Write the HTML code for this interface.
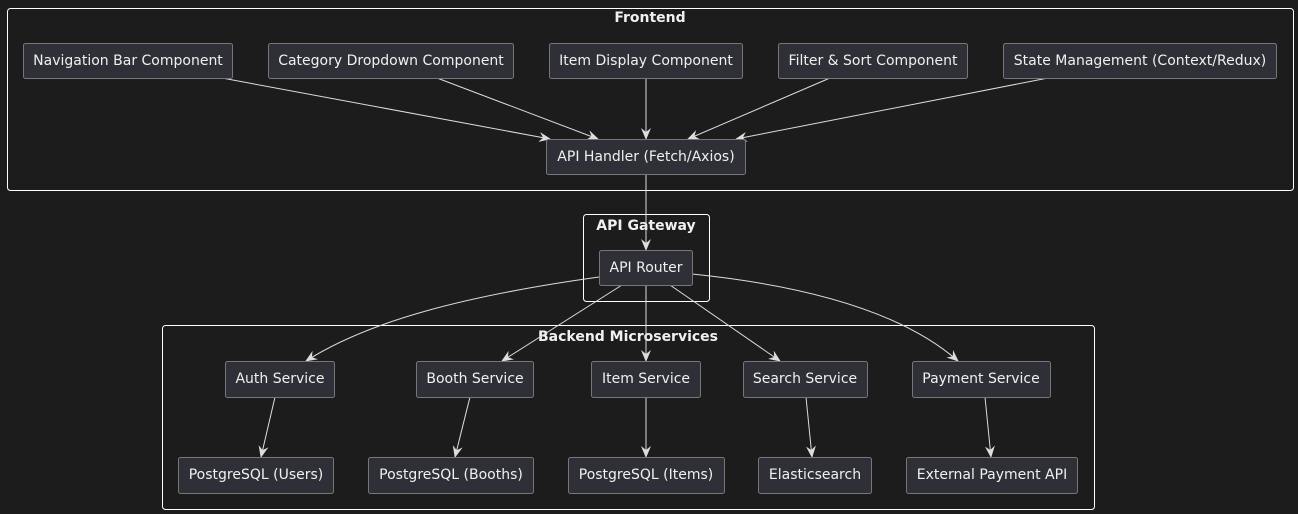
<!DOCTYPE html>
<html><head><style>
html,body{margin:0;padding:0;background:#1c1c1c;}
svg{display:block;}
text{font-family:"DejaVu Sans","Liberation Sans",sans-serif;fill:#f0f0f0;}
.n{fill:#2f2f38;stroke:#777;stroke-width:1;}
.c{fill:none;stroke:#fff;stroke-width:1;}
.e{fill:none;stroke:#ddd;stroke-width:1;marker-end:url(#a);}
.t{font-size:14px;text-anchor:middle;dominant-baseline:central;}
.h{font-size:14px;font-weight:bold;text-anchor:middle;}
</style></head><body>
<svg width="1298" height="514" viewBox="0 0 1298 514" xmlns="http://www.w3.org/2000/svg">
<defs><marker id="a" viewBox="0 0 12 10" refX="11" refY="5" markerWidth="12" markerHeight="10" markerUnits="userSpaceOnUse" orient="auto"><path d="M0,0 L12,5 L0,10 L4,5 z" fill="#ddd"/></marker></defs>
<rect x="0" y="0" width="1298" height="514" fill="#1c1c1c"/>
<rect class="c" x="7.5" y="8.5" width="1286" height="182" rx="3"/>
<text class="h" x="650" y="22">Frontend</text>
<rect class="c" x="583.5" y="214.5" width="126" height="87" rx="3"/>
<text class="h" x="646" y="230">API Gateway</text>
<rect class="c" x="162.5" y="325.5" width="932" height="184" rx="3"/>
<text class="h" x="628" y="341">Backend Microservices</text>

<path class="e" d="M222,78 L550,139"/>
<path class="e" d="M437,78 L598,139"/>
<path class="e" d="M646,78 L646,139"/>
<path class="e" d="M830,78 L688,139"/>
<path class="e" d="M1048,78 L736,139"/>
<path class="e" d="M646,174 L646,250"/>
<path class="e" d="M599,277 C470,295 370,320 306,361"/>
<path class="e" d="M622,285 L502,361"/>
<path class="e" d="M646,285 L646,361"/>
<path class="e" d="M670,285 L780,361"/>
<path class="e" d="M692,274 C800,285 900,310 958,361"/>
<path class="e" d="M275,397 L261,457"/>
<path class="e" d="M470,397 L455,457"/>
<path class="e" d="M646,397 L646,457"/>
<path class="e" d="M806,397 L812,457"/>
<path class="e" d="M985,397 L991,457"/>

<rect class="n" x="23.5" y="43.5" width="209" height="35" rx="2"/><text class="t" x="128" y="61">Navigation Bar Component</text>
<rect class="n" x="268.5" y="43.5" width="245" height="35" rx="2"/><text class="t" x="391" y="61">Category Dropdown Component</text>
<rect class="n" x="549.5" y="43.5" width="193" height="35" rx="2"/><text class="t" x="646" y="61">Item Display Component</text>
<rect class="n" x="778.5" y="43.5" width="189" height="35" rx="2"/><text class="t" x="873" y="61">Filter &amp; Sort Component</text>
<rect class="n" x="1003.5" y="43.5" width="273" height="35" rx="2"/><text class="t" x="1140" y="61">State Management (Context/Redux)</text>
<rect class="n" x="546.5" y="139.5" width="199" height="35" rx="2"/><text class="t" x="646" y="157">API Handler (Fetch/Axios)</text>
<rect class="n" x="599.5" y="250.5" width="93" height="35" rx="2"/><text class="t" x="646" y="268">API Router</text>

<rect class="n" x="225.5" y="361.5" width="109" height="36" rx="2"/><text class="t" x="280" y="379">Auth Service</text>
<rect class="n" x="416.5" y="361.5" width="117" height="36" rx="2"/><text class="t" x="475" y="379">Booth Service</text>
<rect class="n" x="591.5" y="361.5" width="109" height="36" rx="2"/><text class="t" x="646" y="379">Item Service</text>
<rect class="n" x="743.5" y="361.5" width="124" height="36" rx="2"/><text class="t" x="805" y="379">Search Service</text>
<rect class="n" x="912.5" y="361.5" width="138" height="36" rx="2"/><text class="t" x="981" y="379">Payment Service</text>

<rect class="n" x="178.5" y="457.5" width="155" height="36" rx="2"/><text class="t" x="256" y="475">PostgreSQL (Users)</text>
<rect class="n" x="368.5" y="457.5" width="165" height="36" rx="2"/><text class="t" x="451" y="475">PostgreSQL (Booths)</text>
<rect class="n" x="568.5" y="457.5" width="156" height="36" rx="2"/><text class="t" x="646" y="475">PostgreSQL (Items)</text>
<rect class="n" x="758.5" y="457.5" width="113" height="36" rx="2"/><text class="t" x="815" y="475">Elasticsearch</text>
<rect class="n" x="906.5" y="457.5" width="171" height="36" rx="2"/><text class="t" x="992" y="475">External Payment API</text>
</svg>
</body></html>
